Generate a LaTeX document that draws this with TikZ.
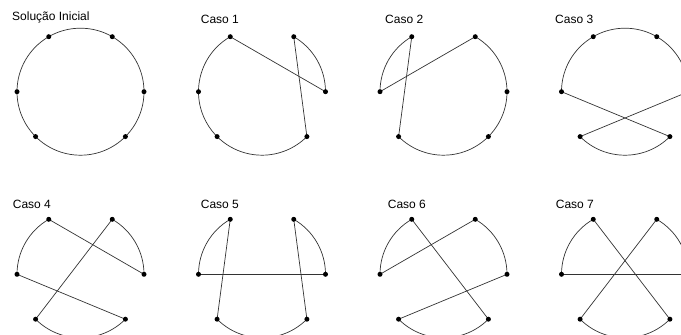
\documentclass[tikz,border=0pt]{standalone}
\usepackage{fontspec}
\setmainfont{Liberation Sans}
\newcommand\mkpts[3]{%
  \foreach \n/\a in {A/120,B/60,C/0,D/-45,E/-135,F/180}{%
    \coordinate (#1\n) at ([shift={(\a:63.5pt)}]#2,#3);}}
\newcommand\mkdots[1]{%
  \foreach \n in {A,B,C,D,E,F}{\node[dot] (#1\n-dot) at (#1\n) {};}}
\newcommand\arcfrom[3]{\draw[edge] (#1.center) arc[start angle=#2,end angle=#3,radius=63.5pt];}
\begin{document}
\begin{tikzpicture}[x=1pt,y=1pt,
  edge/.style={line width=0.7pt, draw=black!80},
  dot/.style={circle, fill=black, inner sep=0pt, minimum size=5pt},
  lbl/.style={anchor=base west, font=\fontsize{12}{14}\selectfont, inner sep=0pt}]
\useasboundingbox (0,0) rectangle (681,335);
\clip (0,0) rectangle (681,335);
% labels
\node[lbl] (t0) at (12,314.5) {Solução Inicial};
\node[lbl] (t1) at (200.7,311) {Caso 1};
\node[lbl] (t2) at (385,311) {Caso 2};
\node[lbl] (t3) at (555,311) {Caso 3};
\node[lbl] (t4) at (12.7,126) {Caso 4};
\node[lbl] (t5) at (200.7,126) {Caso 5};
\node[lbl] (t6) at (387.7,126) {Caso 6};
\node[lbl] (t7) at (555.7,126) {Caso 7};
% points
\mkpts{s0}{80.5}{243.3}
\mkpts{s1}{262}{243.3}
\mkpts{s2}{443.5}{243.3}
\mkpts{s3}{625}{243.3}
\mkpts{s4}{80.5}{60.7}
\mkpts{s5}{262}{60.7}
\mkpts{s6}{443.5}{60.7}
\mkpts{s7}{625}{60.7}
% Solucao inicial
\arcfrom{s0C}{0}{360}
% Caso 1
\arcfrom{s1A}{120}{315}
\arcfrom{s1C}{0}{60}
\draw[edge] (s1A) -- (s1C);
\draw[edge] (s1B) -- (s1D);
% Caso 2
\arcfrom{s2A}{120}{180}
\arcfrom{s2B}{60}{-135}
\draw[edge] (s2F) -- (s2B);
\draw[edge] (s2A) -- (s2E);
% Caso 3
\arcfrom{s3C}{0}{180}
\arcfrom{s3E}{-135}{-45}
\draw[edge] (s3F) -- (s3D);
\draw[edge] (s3C) -- (s3E);
% Caso 4
\arcfrom{s4A}{120}{180}
\arcfrom{s4C}{0}{60}
\arcfrom{s4E}{-135}{-45}
\draw[edge] (s4A) -- (s4C);
\draw[edge] (s4B) -- (s4E);
\draw[edge] (s4F) -- (s4D);
% Caso 5
\arcfrom{s5A}{120}{180}
\arcfrom{s5C}{0}{60}
\arcfrom{s5E}{-135}{-45}
\draw[edge] (s5F) -- (s5C);
\draw[edge] (s5A) -- (s5E);
\draw[edge] (s5B) -- (s5D);
% Caso 6
\arcfrom{s6A}{120}{180}
\arcfrom{s6C}{0}{60}
\arcfrom{s6E}{-135}{-45}
\draw[edge] (s6F) -- (s6B);
\draw[edge] (s6A) -- (s6D);
\draw[edge] (s6C) -- (s6E);
% Caso 7
\arcfrom{s7A}{120}{180}
\arcfrom{s7C}{0}{60}
\arcfrom{s7E}{-135}{-45}
\draw[edge] (s7A) -- (s7D);
\draw[edge] (s7B) -- (s7E);
\draw[edge] (s7F) -- (s7C);
% dots
\mkdots{s0}\mkdots{s1}\mkdots{s2}\mkdots{s3}
\mkdots{s4}\mkdots{s5}\mkdots{s6}\mkdots{s7}
\end{tikzpicture}
\end{document}
